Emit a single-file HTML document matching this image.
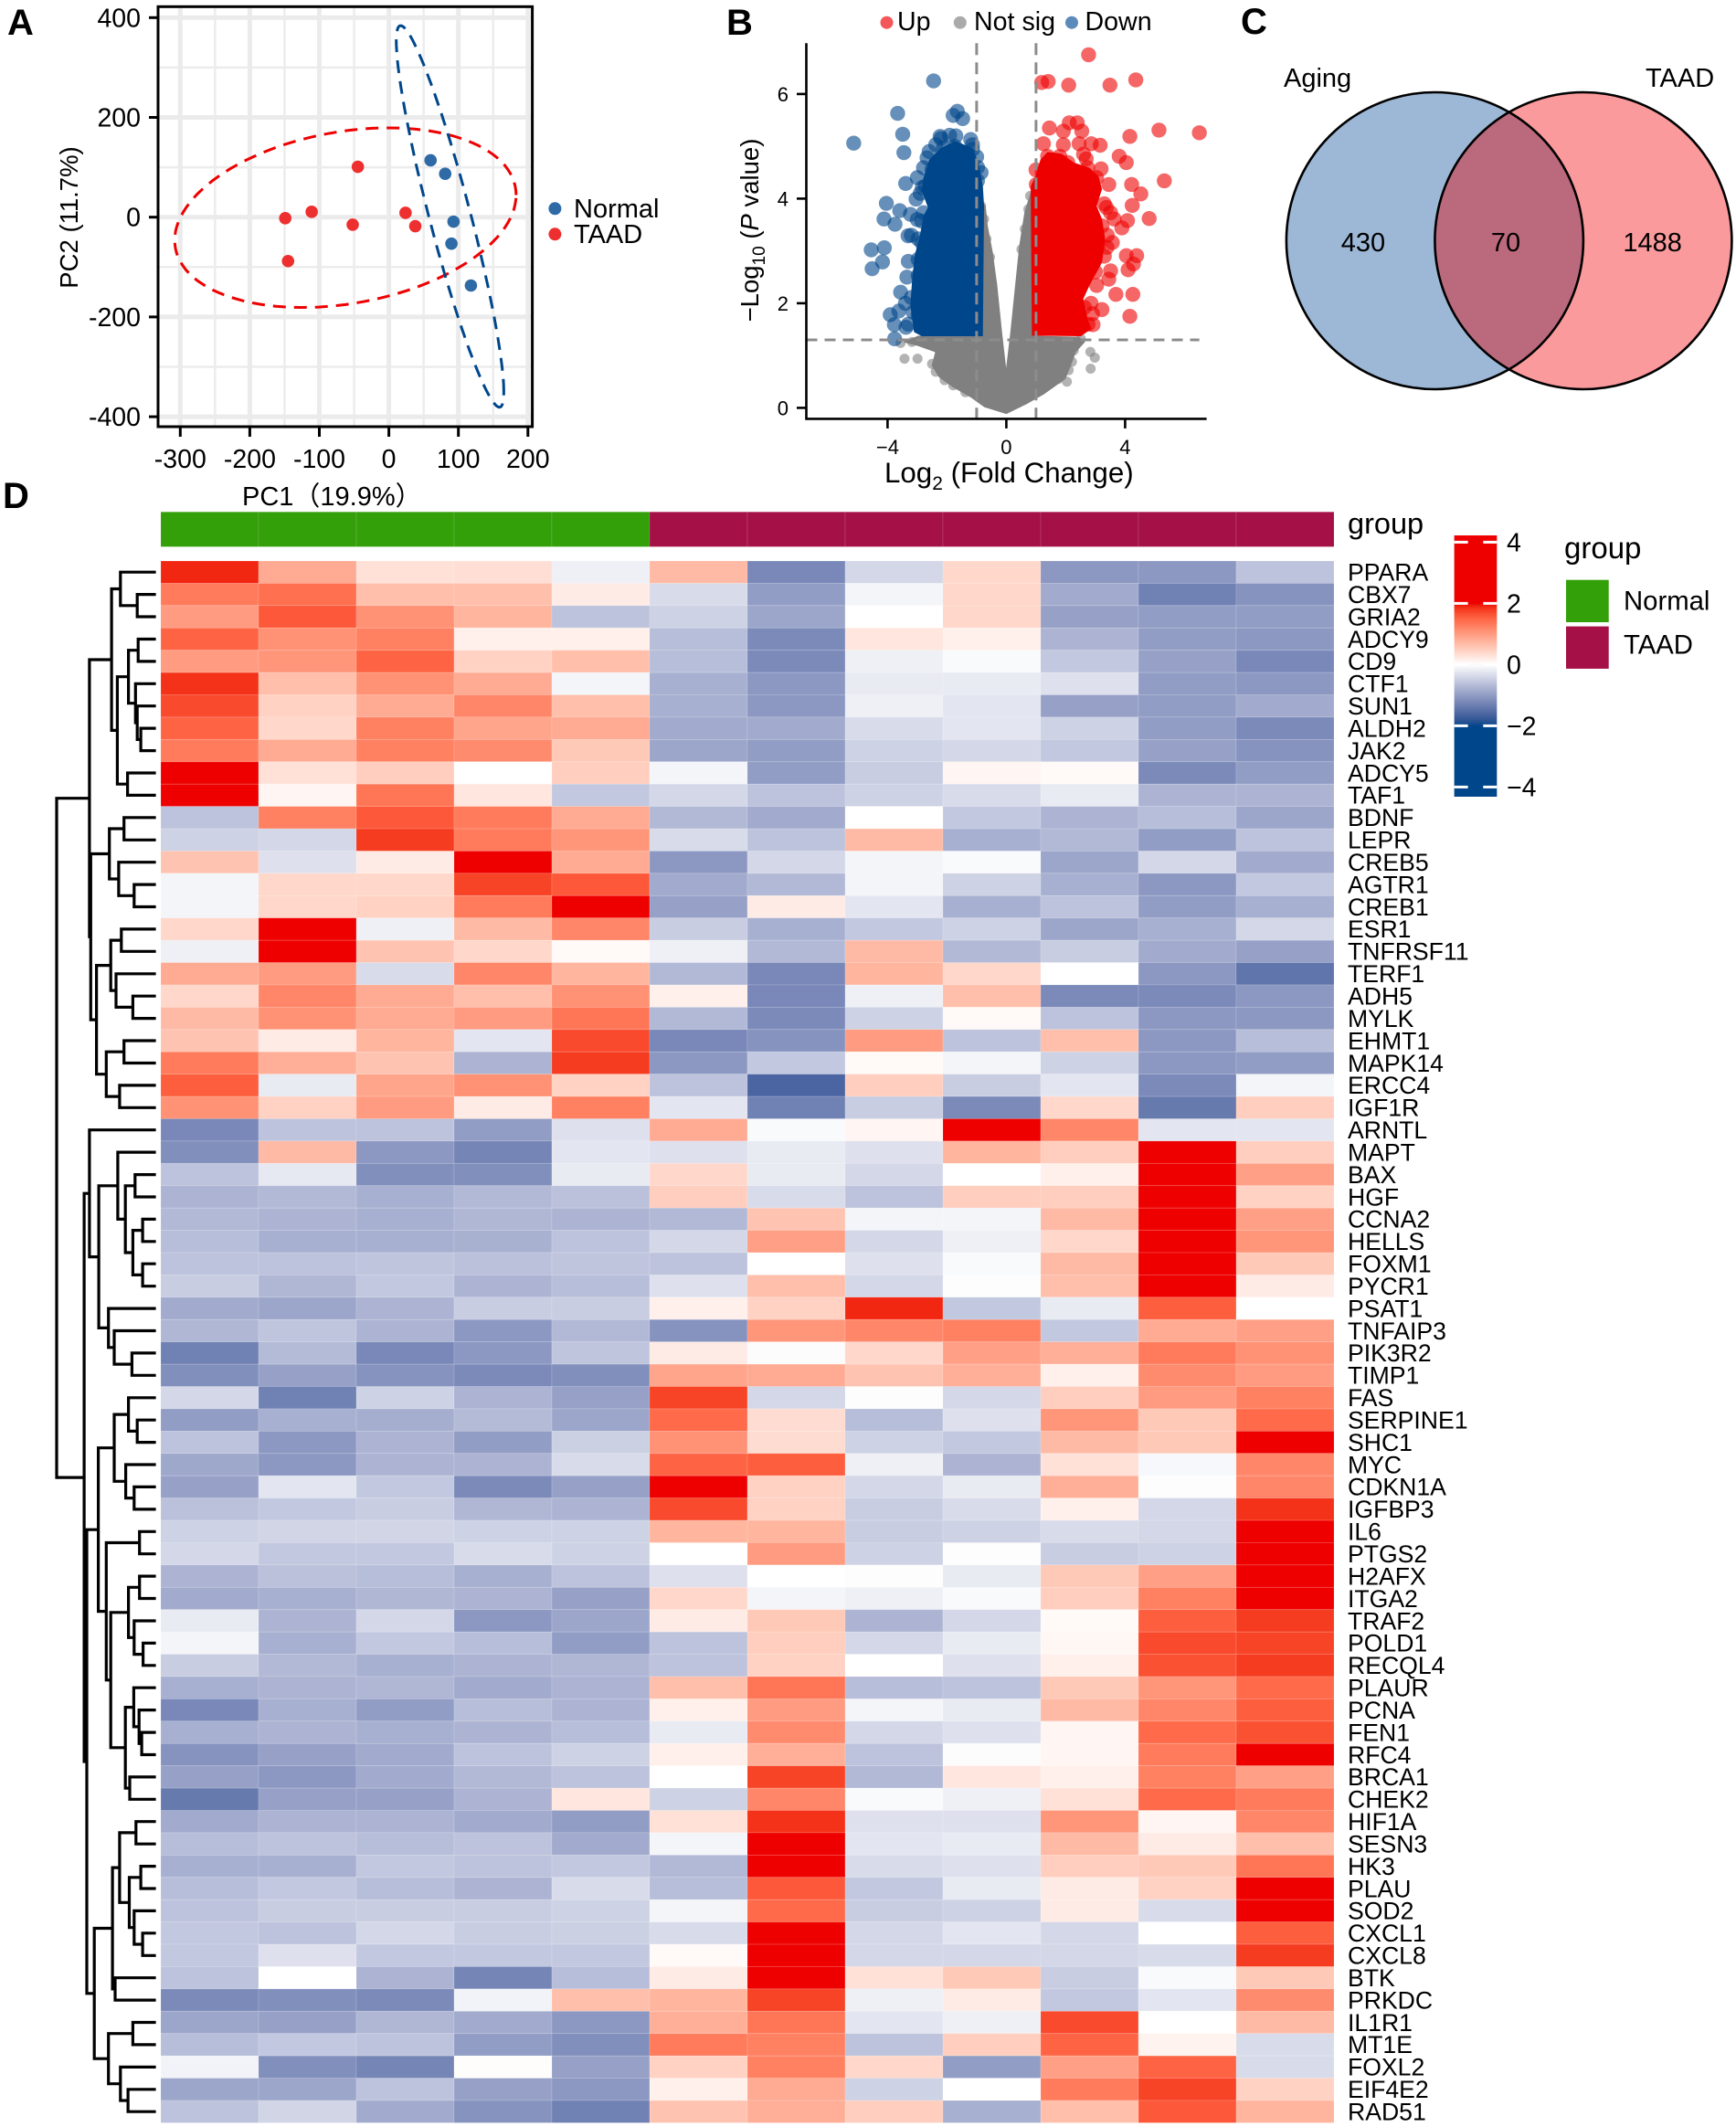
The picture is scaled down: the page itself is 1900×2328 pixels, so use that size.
<!DOCTYPE html>
<html lang="en">
<head>
<meta charset="utf-8">
<title>Aging and TAAD expression figure</title>
<style>
html,body{margin:0;padding:0;background:#fff;width:1900px;height:2328px;overflow:hidden}
svg{display:block}
text{font-family:"Liberation Sans","Noto Sans CJK SC",sans-serif;fill:#000}
.letter{font-weight:700;font-size:40px}
</style>
</head>
<body>
<svg id="fig" xmlns="http://www.w3.org/2000/svg" width="1900" height="2328" viewBox="0 0 1900 2328">
<rect x="0" y="0" width="1900" height="2328" fill="#fff"/>
<text class="letter" x="8" y="38">A</text>
<text class="letter" x="795" y="38">B</text>
<text class="letter" x="1358" y="37">C</text>
<text class="letter" x="3" y="556">D</text>

<g id="pca"></g>
<text x="265" y="553" font-size="29">PC1（19.9%）</text>
<text transform="translate(85,238) rotate(-90)" text-anchor="middle" font-size="27.5">PC2 (11.7%)</text>
<circle cx="607.4" cy="228.3" r="7" fill="#2e6ba6"/>
<circle cx="607.4" cy="256.3" r="7" fill="#ee2f30"/>
<text x="628" y="238" font-size="29">Normal</text>
<text x="628" y="266" font-size="29">TAAD</text>

<g id="volcano"></g>
<text x="968" y="528" font-size="31.3">Log<tspan font-size="21" dy="8">2</tspan><tspan dy="-8"> (Fold Change)</tspan></text>
<text transform="translate(830,252) rotate(-90)" text-anchor="middle" font-size="27.5">−Log<tspan font-size="19" dy="7">10</tspan><tspan dy="-7"> (</tspan><tspan font-style="italic">P</tspan> value)</text>
<circle cx="970.5" cy="24.7" r="7" fill="#f4575a"/>
<text x="982" y="33" font-size="28.6">Up</text>
<circle cx="1050.8" cy="24.7" r="7" fill="#aaaaaa"/>
<text x="1066" y="33" font-size="28.6">Not sig</text>
<circle cx="1173" cy="24.7" r="7" fill="#5c8bbb"/>
<text x="1187.5" y="33" font-size="28.6">Down</text>

<g>
<circle cx="1570.4" cy="263.5" r="162.5" fill="#9db8d6"/>
<circle cx="1732.9" cy="263.5" r="162.5" fill="#fb9a9c"/>
<path d="M1651.65 122.8A162.5 162.5 0 0 1 1651.65 404.2A162.5 162.5 0 0 1 1651.65 122.8Z" fill="#bb6a7d"/>
<circle cx="1570.4" cy="263.5" r="162.5" fill="none" stroke="#000" stroke-width="2.6"/>
<circle cx="1732.9" cy="263.5" r="162.5" fill="none" stroke="#000" stroke-width="2.6"/>
<text x="1405" y="95" font-size="29">Aging</text>
<text x="1801" y="95" font-size="29">TAAD</text>
<text x="1492" y="275" font-size="29" text-anchor="middle">430</text>
<text x="1648" y="275" font-size="29" text-anchor="middle">70</text>
<text x="1808.6" y="275" font-size="29" text-anchor="middle">1488</text>
</g>

<g id="heat"></g>
<g id="dendro"></g>
<text x="1475" y="584" font-size="32.5">group</text>
<defs><linearGradient id="scaleGrad" x1="0" y1="0" x2="0" y2="1"></linearGradient></defs>
<g id="colorLegend"></g>
<text x="1712" y="611" font-size="33">group</text>
<rect x="1714" y="634.7" width="46.7" height="46.3" fill="#339f09"/>
<rect x="1714" y="685.6" width="46.7" height="46.3" fill="#a51046"/>
<text x="1777" y="667.5" font-size="29.3">Normal</text>
<text x="1777" y="715.5" font-size="29.3">TAAD</text>
</svg>

<script>
/* ---------- PCA data ---------- */
const pcaNormalX = [60, 81, 93, 90, 118];
const pcaNormalY = [114, 87, -9, -53, -137];
const pcaTaadX = [-44.6, -111, -149, -52, -145, 24, 38];
const pcaTaadY = [101, 10.7, -2, -15, -88, 8.7, -18];
const pcaMajorXTicks = [-300, -200, -100, 0, 100, 200];
const pcaMinorXTicks = [-250, -150, -50, 50, 150];
const pcaMajorYTicks = [400, 200, 0, -200, -400];
const pcaMinorYTicks = [300, 100, -100, -300];
const pcaNormalEllipse = [88, 1.5, 77.3, 382.5, -66.7];
const pcaTaadEllipse = [-62.5, -1, 245.5, 180, 14.6];

/* ---------- Volcano data ---------- */
const volcanoXTicks = [-4, 0, 4];
const volcanoYTicks = [0, 2, 4, 6];
const volcanoFcCutoffs = [-1, 1];
const volcanoPCutoff = 1.3;
const volcanoNotSigHull = [[0,-0.11],[-0.73,0.02],[-1.2,0.21],[-1.79,0.4],[-2.26,0.59],[-2.5,0.81],[-2.38,1.07],[-2.97,1.19],[-3.44,1.26],[-2.97,1.37],[-0.79,1.37],[-0.79,3.99],[-0.91,3.99],[-0.71,3.86],[-0.64,3.48],[-0.47,2.97],[-0.32,2.34],[-0.16,1.45],[-0.02,0.75],[0,0.72],[0.15,1.45],[0.31,2.34],[0.45,3.1],[0.62,3.73],[0.86,4.18],[0.98,1.37],[2.45,1.35],[2.63,1.26],[2.33,1.07],[2.16,0.81],[1.98,0.56],[1.27,0.27],[0.68,0.08]];
const volcanoNotSigPoints = [[-3.43,0.94],[-2.99,0.94],[2.83,1.07],[2.98,0.96],[2.84,0.75],[2.1,0.72],[2.04,0.5],[1.74,0.55],[2.21,0.88],[-2.38,0.69],[-2.08,0.53],[-1.79,0.43],[-1.38,0.3],[-3.56,1.24],[-3.18,1.26],[-2.5,0.84],[2.21,1.26],[2.51,1.32],[2.27,1.1],[-0.85,3.86],[-0.75,3.61],[-0.67,3.23],[-0.55,2.88],[0.8,4.05],[0.74,3.8],[0.62,3.42],[0.51,3.03]];
const volcanoUpHull = [[0.86,1.38],[0.82,4.24],[0.98,4.43],[1.15,4.75],[1.39,4.89],[1.86,4.86],[2.27,4.69],[2.8,4.59],[3.1,4.43],[3.22,4.18],[3.04,3.86],[3.22,3.61],[3.33,3.23],[3.22,2.78],[2.8,2.34],[2.59,2.08],[2.74,1.7],[2.86,1.51],[2.51,1.37]];
const volcanoUpPoints = [[2.77,6.75],[1.19,6.22],[1.41,6.24],[2.1,6.17],[3.49,6.17],[4.36,6.27],[6.5,5.26],[5.14,5.31],[4.16,5.19],[5.32,4.34],[4.22,4.27],[4.53,4.09],[4.24,3.87],[4.81,3.62],[4.08,3.58],[3.89,3.44],[3.8,4.81],[4.04,4.69],[3.63,3.61],[4.04,2.91],[4.39,2.91],[4.28,2.75],[4.1,2.64],[3.51,2.62],[3.45,2.46],[3.69,2.17],[4.26,2.17],[3.22,1.88],[4.16,1.75],[2.92,1.59],[3.57,3.16],[3.39,3.07],[1.45,5.35],[2.12,5.45],[2.39,5.45],[2.54,5.29],[1.92,5.29],[1.25,5.05],[1.92,5.03],[2.45,5.05],[2.86,5.05],[3.16,5.02],[1.39,4.81],[1.8,4.81],[2.69,4.76],[2.07,4.69],[2.74,4.59],[3.19,4.57],[3.04,4.4],[3.45,4.27],[3.37,3.83],[3.51,3.73],[3.22,3.48],[3.04,2.34],[2.63,1.92],[1.01,4.27],[1.21,4.5],[3.3,3.9],[3.4,3.3],[3.3,2.9],[3,2.6],[2.85,2],[2.9,1.8],[2.75,1.6],[2.6,4.85],[1,4.55],[3.1,3.1]];
const volcanoDownHull = [[-0.79,1.37],[-0.75,3.86],[-0.79,4.24],[-0.94,4.69],[-1.14,4.97],[-1.73,5.1],[-2.2,4.97],[-2.59,4.75],[-2.79,4.4],[-2.85,4.15],[-2.64,3.83],[-2.79,3.67],[-2.91,3.29],[-3.09,2.91],[-3.18,2.4],[-3.23,1.96],[-3.11,1.45],[-2.85,1.37]];
const volcanoDownPoints = [[-2.45,6.25],[-3.66,5.63],[-1.65,5.67],[-1.79,5.59],[-1.47,5.53],[-3.49,5.23],[-5.14,5.06],[-3.45,4.88],[-2.23,5.19],[-1.91,5.21],[-2.38,5.03],[-1.2,5.13],[-1.14,5.03],[-1.14,4.94],[-1.73,5],[-2.12,4.97],[-2.67,4.78],[-2.5,4.56],[-2.79,4.59],[-0.97,4.6],[-3.39,4.29],[-2.73,4.24],[-2.83,4.21],[-1.38,4.5],[-0.97,4.34],[-3.04,3.99],[-4.04,3.91],[-3.59,3.77],[-3.23,3.7],[-4.12,3.61],[-3.75,3.51],[-2.85,3.57],[-2.79,3.73],[-3.31,3.29],[-2.97,3.23],[-2.85,3.16],[-4.11,3.06],[-4.55,3.02],[-4.17,2.79],[-4.52,2.66],[-2.97,2.84],[-2.97,2.53],[-3.56,2.21],[-3.2,2.11],[-3.62,1.85],[-3.91,1.78],[-3.77,1.59],[-3.38,1.54],[-3.76,1.32],[-2.97,1.77],[-3.14,1.83],[-3,4.4],[-2.9,4.1],[-3,3.6],[-3.2,3.3],[-3.3,2.8],[-3.35,2.5],[-3.4,2],[-3.3,1.6],[-2.6,4.9],[-2.2,5.15],[-1.7,5.2],[-1,4.8],[-0.85,4.5]];

/* ---------- Heatmap data ---------- */
const geneNames = ["PPARA","CBX7","GRIA2","ADCY9","CD9","CTF1","SUN1","ALDH2","JAK2","ADCY5","TAF1","BDNF","LEPR","CREB5","AGTR1","CREB1","ESR1","TNFRSF11","TERF1","ADH5","MYLK","EHMT1","MAPK14","ERCC4","IGF1R","ARNTL","MAPT","BAX","HGF","CCNA2","HELLS","FOXM1","PYCR1","PSAT1","TNFAIP3","PIK3R2","TIMP1","FAS","SERPINE1","SHC1","MYC","CDKN1A","IGFBP3","IL6","PTGS2","H2AFX","ITGA2","TRAF2","POLD1","RECQL4","PLAUR","PCNA","FEN1","RFC4","BRCA1","CHEK2","HIF1A","SESN3","HK3","PLAU","SOD2","CXCL1","CXCL8","BTK","PRKDC","IL1R1","MT1E","FOXL2","EIF4E2","RAD51"];
const sampleGroups = ["Normal","Normal","Normal","Normal","Normal","TAAD","TAAD","TAAD","TAAD","TAAD","TAAD","TAAD"];
const heatValues = [
[1.9,.85,.3,.32,-.15,.7,-1.22,-.4,.4,-1.05,-1.05,-.6],
[1.3,1.4,.65,.65,.2,-.35,-1,-.1,.4,-.85,-1.3,-1.1],
[1,1.6,1.1,.75,-.6,-.45,-.9,0,.4,-.95,-1,-1],
[1.5,1.1,1.25,.15,.15,-.65,-1.2,.25,.15,-.75,-1,-1.05],
[1,1.05,1.5,.45,.65,-.65,-1.2,-.15,-.05,-.55,-.95,-1.22],
[1.85,.65,1.1,.85,-.1,-.8,-1.05,-.2,-.2,-.3,-1,-1.05],
[1.7,.45,.85,1.2,.65,-.8,-1.05,-.15,-.25,-.95,-1,-.85],
[1.5,.4,1.25,.9,.85,-.85,-.85,-.35,-.25,-.45,-1,-1.2],
[1.3,.85,1.25,1.15,.55,-.9,-1,-.45,-.4,-.55,-.95,-1.1],
[2,.3,.5,0,.5,-.1,-1,-.5,.1,.05,-1.2,-1],
[2,.1,1.35,.25,-.55,-.4,-.6,-.45,-.35,-.2,-.75,-.75],
[-.6,1.25,1.6,1.3,.85,-.7,-.85,0,-.55,-.75,-.65,-.9],
[-.45,-.4,1.8,1.3,1.05,-.35,-.6,.7,-.8,-.7,-1,-.6],
[.6,-.3,.2,2,.85,-1.05,-.4,-.1,-.05,-.9,-.4,-.85],
[-.1,.4,.4,1.75,1.6,-.85,-.7,-.1,-.45,-.8,-1.05,-.55],
[-.1,.4,.45,1.3,2,-.95,.2,-.25,-.8,-.6,-1,-.8],
[.4,2,-.15,.7,1.2,-.5,-.8,-.55,-.45,-.9,-.8,-.4],
[-.15,2,.6,.4,.05,-.15,-.7,.7,-.7,-.5,-.85,-.95],
[.85,1,-.35,1.2,.75,-.7,-1.22,.75,.4,0,-1.05,-1.44],
[.4,1.2,.85,.65,1.1,.15,-1.22,-.15,.65,-1.2,-1.2,-1.05],
[.7,1.1,.85,1,1.35,-.7,-1.2,-.45,.05,-.6,-1.05,-1.05],
[.6,.2,.75,-.25,1.7,-1.22,-1.1,1,-.6,.65,-1.05,-.65],
[1.3,.8,.6,-.75,1.8,-1.05,-.55,.05,-.1,-.45,-1.05,-1],
[1.55,-.2,.9,1.1,.45,-.6,-1.62,.5,-.5,-.25,-1.2,-.1],
[1.1,.45,1,.2,1.25,-.25,-1.3,-.5,-1.2,.4,-1.38,.5],
[-1.22,-.6,-.6,-1,-.3,.85,-.05,.1,2,1.2,-.25,-.25],
[-1.15,.7,-1.05,-1.26,-.25,-.3,-.2,-.3,.75,.5,2,.5],
[-.6,-.22,-1.15,-1.15,-.2,.4,-.2,-.4,0,.15,2,.95],
[-.75,-.7,-.8,-.7,-.62,.5,-.35,-.6,.5,.5,2,.45],
[-.7,-.75,-.8,-.72,-.75,-.7,.6,-.1,-.1,.7,2,.95],
[-.65,-.8,-.8,-.78,-.6,-.4,.95,-.4,-.15,.4,2,1.05],
[-.6,-.6,-.58,-.62,-.58,-.6,0,-.3,-.05,.7,2,.55],
[-.5,-.72,-.55,-.75,-.65,-.3,.65,-.4,-.02,.65,2,.2],
[-.85,-.9,-.75,-.5,-.5,.15,.45,1.9,-.55,-.2,1.55,0],
[-.72,-.58,-.75,-1.05,-.7,-1.1,1.05,1.2,1.25,-.55,.85,.95],
[-1.3,-.68,-1.22,-1.05,-.58,.2,-.03,.4,.95,.8,1.3,1.1],
[-1.15,-.95,-1.1,-1.2,-1.15,.9,.85,.6,.8,.15,1.15,1],
[-.4,-1.3,-.45,-.75,-.95,1.75,-.4,-.02,-.4,.5,1,1.25],
[-1,-.8,-.82,-.68,-.9,1.45,.35,-.65,-.3,1.05,.55,1.45],
[-.6,-1.05,-.75,-1,-.47,1.1,.35,-.45,-.55,.7,.55,2],
[-.88,-1.05,-.75,-.75,-.35,1.5,1.55,-.15,-.75,.3,-.07,1.2],
[-.95,-.25,-.55,-1.2,-.95,2,.45,-.4,-.2,.8,-.02,1.2],
[-.62,-.55,-.5,-.72,-.75,1.7,.45,-.5,-.35,.15,-.4,1.85],
[-.45,-.42,-.42,-.45,-.45,.75,.75,-.5,-.45,-.35,-.4,2],
[-.4,-.55,-.55,-.36,-.45,0,1,-.45,-.02,-.5,-.45,2],
[-.75,-.62,-.65,-.8,-.6,-.3,0,-.02,-.2,.55,.95,2],
[-.85,-.8,-.72,-.75,-.95,.4,-.1,-.15,-.05,.5,1.25,2],
[-.2,-.75,-.4,-1.05,-.9,.2,.55,-.75,-.4,.05,1.55,1.8],
[-.1,-.8,-.55,-.65,-1,-.6,.5,-.4,-.2,.08,1.7,1.75],
[-.5,-.7,-.8,-.75,-.72,-.6,.45,0,-.3,.15,1.65,1.8],
[-.8,-.75,-.72,-.85,-.75,.65,1.35,-.65,-.6,.55,1.05,1.45],
[-1.22,-.8,-1,-.65,-.75,.15,1,-.1,-.2,.7,1.2,1.55],
[-.8,-.75,-.8,-.75,-.65,-.2,1.15,-.4,-.3,.1,1.45,1.65],
[-1.1,-.95,-.85,-.6,-.45,.15,.8,-.6,-.03,.1,1.3,2],
[-.95,-1.05,-.85,-.7,-.6,0,1.75,-.7,.25,.15,1.25,.95],
[-1.38,-.95,-.95,-.75,.25,-.45,1.2,-.05,-.15,.3,1.45,1.3],
[-.85,-.75,-.75,-.85,-1,.3,1.85,-.3,-.3,1.05,.1,1.2],
[-.65,-.6,-.65,-.6,-.85,-.1,2,-.25,-.2,.7,.2,.65],
[-.8,-.8,-.55,-.6,-.55,-.7,2,-.35,-.3,.5,.55,1.35],
[-.65,-.55,-.65,-.75,-.35,-.65,1.6,-.55,-.2,.2,.45,2],
[-.6,-.5,-.5,-.5,-.45,-.1,1.45,-.5,-.45,.2,-.35,2],
[-.55,-.6,-.4,-.5,-.47,-.35,2,-.4,-.25,-.4,0,1.55],
[-.55,-.3,-.55,-.55,-.55,.05,2,-.4,-.4,-.4,-.35,1.8],
[-.6,0,-.75,-1.26,-.65,.2,2,.3,.55,-.5,-.05,.55],
[-1.2,-1.15,-1.2,-.12,.65,.75,1.75,-.15,.2,-.55,-.25,1.15],
[-.9,-.95,-.72,-.85,-1.05,.8,1.35,-.25,-.15,1.7,0,.7],
[-.65,-.55,-.6,-1,-1.15,1.3,1.25,-.6,.5,1.5,.12,-.35],
[-.12,-1.15,-1.26,.02,-.95,.45,1.25,.4,-1,.95,1.5,-.35],
[-.9,-.9,-.6,-.95,-1.05,.15,.85,-.45,0,1.3,1.75,.45],
[-.6,-.42,-.85,-1.1,-1.3,.6,.8,.5,-.8,.65,1.6,.75]
];
const colorScaleTicks = [4, 2, 0, -2, -4];

/* Dendrogram merges: [height, left, right]; leaves are row indices */
const dendrogramTree = [108.6,
 [72.7,
  [48.5,[38.8,0,[20.4,1,2]],[42.2,[30,[19.4,3,4],[22.3,5,[20.4,6,[16.5,7,8]]]],[31,9,10]]],
  [71.3,
   [50.9,[34.9,11,12],[40.7,13,[23.8,14,15]]],
   [65,[49.4,[37.8,16,17],[43.6,18,[25.2,19,20]]],[54.3,[34.9,21,22],[39.7,23,24]]]
  ]
 ],
 [78.5,
  [72.7,25,[62.5,[41.7,26,[33.4,[22.8,27,28],[25.2,[14.5,29,30],[14.5,31,32]]]],[51.9,33,[45.6,34,[26.2,35,36]]]]],
  [75.6,
   [63,
    [45.6,[30,37,[20.4,38,39]],[33,40,[23.8,41,42]]],
    [54.3,[17.9,43,44],[49.4,[30,[17.9,45,46],[23.8,47,[14,48,49]]],[33.4,[24.2,50,[18.4,51,[15.5,52,53]]],[28.6,54,55]]]]
   ],
   [67.4,
    [47.5,[39.7,[21.8,56,57],[29.1,[16.5,58,59],[23.8,60,[14.5,61,62]]]],[44.6,63,64]],
    [51.9,[25.2,65,66],[38.8,67,[30.5,68,69]]]
   ]
  ]
 ]
];

/* ---------- helpers ---------- */
const NS = 'http://www.w3.org/2000/svg';
function mk(parent, tag, attrs, txt) {
  const el = document.createElementNS(NS, tag);
  for (const k in attrs) el.setAttribute(k, attrs[k]);
  if (txt !== undefined) el.textContent = txt;
  parent.appendChild(el);
  return el;
}
function poly(points, sx, sy) {
  return points.map(p => sx(p[0]).toFixed(1) + ',' + sy(p[1]).toFixed(1)).join(' ');
}

/* ---------- PCA ---------- */
(function () {
  const g = document.getElementById('pca');
  const sx = v => 425.6 + v * 0.761;
  const sy = v => 237.7 - v * 0.546;
  const L = 173, R = 582.6, T = 7.3, B = 467;
  pcaMinorXTicks.forEach(v => {
    const el = mk(g, 'line', {x1: sx(v), x2: sx(v), y1: T, y2: B, stroke: '#ececec', 'stroke-width': 2.5});
    
    
  });
  pcaMinorYTicks.forEach(v => {
    const el = mk(g, 'line', {x1: L, x2: R, y1: sy(v), y2: sy(v), stroke: '#ececec', 'stroke-width': 2.5});
    
    
  });
  pcaMajorXTicks.forEach(v => {
    const el = mk(g, 'line', {x1: sx(v), x2: sx(v), y1: T, y2: B, stroke: '#ebebeb', 'stroke-width': 5});
    
    
    const tick = mk(g, 'line', {x1: sx(v), x2: sx(v), y1: B, y2: B + 11, stroke: '#000', 'stroke-width': 3});
    
    
    const lab = mk(g, 'text', {x: sx(v), y: 512, 'text-anchor': 'middle', 'font-size': 28.5}, String(v));
    
    
  });
  pcaMajorYTicks.forEach(v => {
    const el = mk(g, 'line', {x1: L, x2: R, y1: sy(v), y2: sy(v), stroke: '#ebebeb', 'stroke-width': 5});
    
    
    const tick = mk(g, 'line', {x1: L - 10, x2: L, y1: sy(v), y2: sy(v), stroke: '#000', 'stroke-width': 3});
    
    
    const lab = mk(g, 'text', {x: 154, y: sy(v) + 10, 'text-anchor': 'end', 'font-size': 28.5}, String(v));
    
    
  });
  const frame = mk(g, 'rect', {x: L, y: T, width: R - L, height: B - T, fill: 'none', stroke: '#000', 'stroke-width': 3});
  
  
  function ellipsePath(e) {
    const phi = e[4] * Math.PI / 180;
    let d = '';
    for (let i = 0; i <= 120; i++) {
      const t = i / 120 * 2 * Math.PI;
      const x = e[0] + e[2] * Math.cos(t);
      const y = e[1] + e[3] * Math.sin(t + phi);
      d += (i ? 'L' : 'M') + sx(x).toFixed(1) + ' ' + sy(y).toFixed(1);
    }
    return d + 'Z';
  }
  const e1 = mk(g, 'path', {d: ellipsePath(pcaTaadEllipse), fill: 'none', stroke: '#ee0000', 'stroke-width': 3, 'stroke-dasharray': '14 9'});
  
  
  const e2 = mk(g, 'path', {d: ellipsePath(pcaNormalEllipse), fill: 'none', stroke: '#00468b', 'stroke-width': 3, 'stroke-dasharray': '14 9'});
  
  
  pcaTaadX.forEach((x, i) => {
    const c = mk(g, 'circle', {cx: sx(x), cy: sy(pcaTaadY[i]), r: 6.8, fill: '#ee2f30'});
    
    
  });
  pcaNormalX.forEach((x, i) => {
    const c = mk(g, 'circle', {cx: sx(x), cy: sy(pcaNormalY[i]), r: 6.8, fill: '#2e6ba6'});
    
    
  });
})();

/* ---------- Volcano ---------- */
(function () {
  const g = document.getElementById('volcano');
  const sx = v => 1101.4 + v * 32.5;
  const sy = v => 446.4 - v * 57.25;
  const L = 882.5, R = 1320.6, T = 47.3, B = 458.4;
  const gh = mk(g, 'polygon', {points: poly(volcanoNotSigHull, sx, sy), fill: '#808080', stroke: '#808080', 'stroke-width': 1, 'stroke-linejoin': 'round'});
  
  
  volcanoNotSigPoints.forEach(p => {
    const c = mk(g, 'circle', {cx: sx(p[0]), cy: sy(p[1]), r: 5.5, fill: '#808080', 'fill-opacity': .6});
    
    
  });
  const dh = mk(g, 'polygon', {points: poly(volcanoDownHull, sx, sy), fill: '#00468b'});
  
  
  volcanoDownPoints.forEach(p => {
    const c = mk(g, 'circle', {cx: sx(p[0]), cy: sy(p[1]), r: 8.2, fill: '#00468b', 'fill-opacity': .6});
    
    
  });
  const uh = mk(g, 'polygon', {points: poly(volcanoUpHull, sx, sy), fill: '#ee0000'});
  
  
  volcanoUpPoints.forEach(p => {
    const c = mk(g, 'circle', {cx: sx(p[0]), cy: sy(p[1]), r: 8.2, fill: '#ee0000', 'fill-opacity': .6});
    
    
  });
  volcanoFcCutoffs.forEach(v => {
    const l = mk(g, 'line', {x1: sx(v), x2: sx(v), y1: T, y2: B, stroke: '#8c8c8c', 'stroke-width': 3, 'stroke-dasharray': '13 8'});
    
    
  });
  const hl = mk(g, 'line', {x1: L, x2: R - 8, y1: sy(volcanoPCutoff), y2: sy(volcanoPCutoff), stroke: '#8c8c8c', 'stroke-width': 3, 'stroke-dasharray': '12 8'});
  
  
  const ax = mk(g, 'path', {d: `M${L} ${T}V${B}H${R}`, fill: 'none', stroke: '#000', 'stroke-width': 2.6});
  
  
  volcanoXTicks.forEach(v => {
    const t = mk(g, 'line', {x1: sx(v), x2: sx(v), y1: B, y2: B + 10.5, stroke: '#000', 'stroke-width': 2.6});
    
    
    const lab = mk(g, 'text', {x: sx(v), y: 497, 'text-anchor': 'middle', 'font-size': 22}, String(v).replace('-', '−'));
    
    
  });
  volcanoYTicks.forEach(v => {
    const t = mk(g, 'line', {x1: L - 10.5, x2: L, y1: sy(v), y2: sy(v), stroke: '#000', 'stroke-width': 2.6});
    
    
    const lab = mk(g, 'text', {x: 863, y: sy(v) + 8, 'text-anchor': 'end', 'font-size': 22}, String(v));
    
    
  });
})();

/* ---------- Colour (Lab interpolation) ---------- */
function hex2lab(h) {
  const c = [1, 3, 5].map(i => parseInt(h.substr(i, 2), 16) / 255).map(v => v <= .04045 ? v / 12.92 : Math.pow((v + .055) / 1.055, 2.4));
  const X = (.4124 * c[0] + .3576 * c[1] + .1805 * c[2]) / .95047;
  const Y = .2126 * c[0] + .7152 * c[1] + .0722 * c[2];
  const Z = (.0193 * c[0] + .1192 * c[1] + .9505 * c[2]) / 1.08883;
  const f = t => t > .008856 ? Math.cbrt(t) : 7.787 * t + 16 / 116;
  return [116 * f(Y) - 16, 500 * (f(X) - f(Y)), 200 * (f(Y) - f(Z))];
}
function lab2css(l) {
  const fy = (l[0] + 16) / 116, fx = fy + l[1] / 500, fz = fy - l[2] / 200;
  const inv = t => t * t * t > .008856 ? t * t * t : (t - 16 / 116) / 7.787;
  const X = inv(fx) * .95047, Y = inv(fy), Z = inv(fz) * 1.08883;
  const rgb = [3.2406 * X - 1.5372 * Y - .4986 * Z, -.9689 * X + 1.8758 * Y + .0415 * Z, .0557 * X - .204 * Y + 1.057 * Z];
  const out = rgb.map(v => {
    v = Math.max(0, Math.min(1, v));
    v = v <= .0031308 ? 12.92 * v : 1.055 * Math.pow(v, 1 / 2.4) - .055;
    return Math.round(v * 255);
  });
  return 'rgb(' + out.join(',') + ')';
}
const labRed = hex2lab('#ee0000');
const labBlue = hex2lab('#00468b');
function heatColor(v) {
  const t = Math.min(1, Math.abs(v) / 2);
  const e = v >= 0 ? labRed : labBlue;
  return lab2css([100 + (e[0] - 100) * t, e[1] * t, e[2] * t]);
}

/* ---------- Heatmap ---------- */
(function () {
  const g = document.getElementById('heat');
  const X0 = 176, CW = 107, Y0 = 614, RH = 24.42;
  sampleGroups.forEach((grp, j) => {
    const r = mk(g, 'rect', {x: X0 + j * CW, y: 560.3, width: CW, height: 38.1, fill: grp === 'Normal' ? '#339f09' : '#a51046', stroke: '#fff', 'stroke-opacity': .15, 'stroke-width': .8});
    
    
  });
  heatValues.forEach((row, i) => {
    row.forEach((v, j) => {
      const r = mk(g, 'rect', {x: X0 + j * CW, y: (Y0 + i * RH).toFixed(2), width: CW, height: RH.toFixed(2), fill: heatColor(v), stroke: '#fff', 'stroke-opacity': .18, 'stroke-width': .8});
      
      
    });
    const t = mk(g, 'text', {x: 1475, y: (Y0 + (i + .5) * RH + 9.3).toFixed(1), 'font-size': 26.6}, geneNames[i]);
    
    
  });
})();

/* ---------- Dendrogram ---------- */
(function () {
  const g = document.getElementById('dendro');
  const sx = h => 170.6 - h;
  const sy = i => 614 + (i + .5) * 24.42;
  let d = '';
  function walk(node) {
    if (typeof node === 'number') return {x: sx(0), y: sy(node)};
    const a = walk(node[1]), b = walk(node[2]);
    const x = sx(node[0]);
    d += `M${a.x.toFixed(1)} ${a.y.toFixed(1)}H${x.toFixed(1)}V${b.y.toFixed(1)}H${b.x.toFixed(1)}`;
    return {x: x, y: (a.y + b.y) / 2};
  }
  walk(dendrogramTree);
  const p = mk(g, 'path', {d: d, fill: 'none', stroke: '#000', 'stroke-width': 3.2, 'stroke-linejoin': 'miter'});
  
  
})();

/* ---------- Colour legend ---------- */
(function () {
  const g = document.getElementById('colorLegend');
  const grad = document.getElementById('scaleGrad');
  const sy = v => 727.4 - v * 33.5;
  const top = 586, bot = 872, L = 1591.6, W = 46.7;
  for (let i = 0; i <= 100; i++) {
    const y = top + (bot - top) * i / 100;
    const v = (727.4 - y) / 33.5;
    mk(grad, 'stop', {offset: (i) + '%', 'stop-color': heatColor(v)});
  }
  const bar = mk(g, 'rect', {x: L, y: top, width: W, height: bot - top, fill: 'url(#scaleGrad)'});
  
  
  colorScaleTicks.forEach(v => {
    const a = mk(g, 'line', {x1: L, x2: L + 15, y1: sy(v), y2: sy(v), stroke: '#fff', 'stroke-width': 3});
    
    
    const b = mk(g, 'line', {x1: L + W - 15, x2: L + W, y1: sy(v), y2: sy(v), stroke: '#fff', 'stroke-width': 3});
    
    
    const t = mk(g, 'text', {x: 1649, y: sy(v) + 10, 'font-size': 28.5}, String(v).replace('-', '−'));
    
    
  });
})();
</script>
</body>
</html>
